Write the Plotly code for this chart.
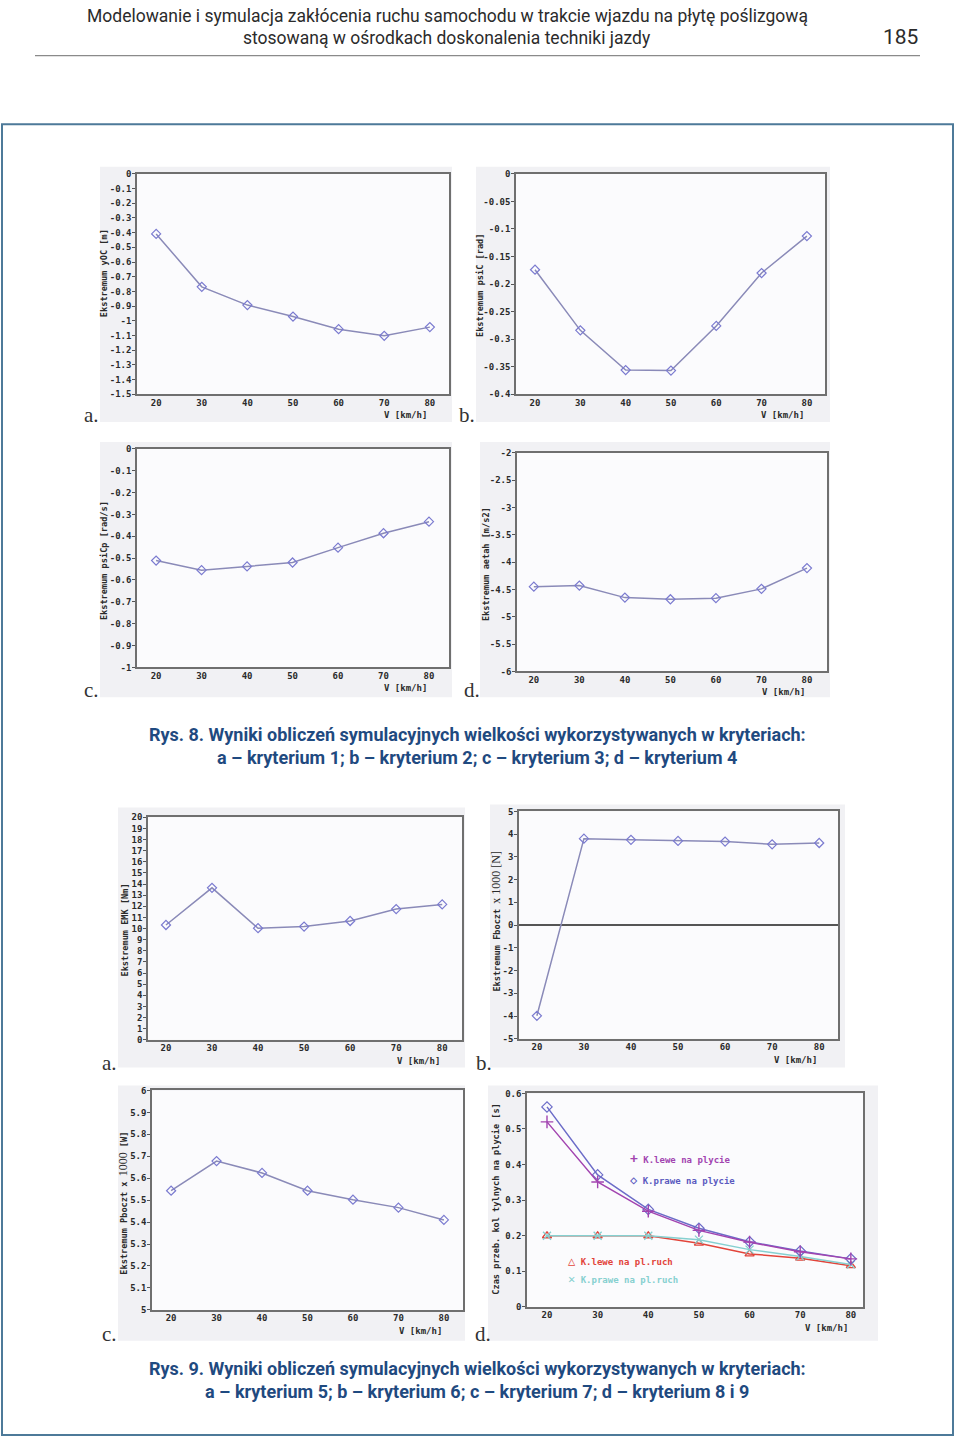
import plotly.graph_objects as go

W, H = 960, 1443

# ---------------- data ----------------
speeds = [20, 30, 40, 50, 60, 70, 80]
speed_labels = ["20", "30", "40", "50", "60", "70", "80"]

yOC = [-0.409, -0.769, -0.893, -0.971, -1.057, -1.102, -1.043]
psiC = [-0.174, -0.284, -0.356, -0.357, -0.276, -0.180, -0.113]
psiCp = [-0.511, -0.555, -0.538, -0.520, -0.452, -0.386, -0.333]
aetah = [-4.45, -4.43, -4.65, -4.68, -4.66, -4.49, -4.11]
EMK = [10.32, 13.66, 10.03, 10.18, 10.68, 11.75, 12.17]
Fboczt = [-3.99, 3.80, 3.75, 3.70, 3.67, 3.55, 3.61]
Pboczt = [5.543, 5.678, 5.624, 5.543, 5.502, 5.466, 5.410]
lewe_plycie = [0.520, 0.351, 0.269, 0.215, 0.182, 0.155, 0.135]
prawe_plycie = [0.562, 0.371, 0.274, 0.221, 0.183, 0.157, 0.135]
lewe_ruch = [0.200, 0.200, 0.200, 0.179, 0.149, 0.137, 0.116]
prawe_ruch = [0.200, 0.200, 0.200, 0.189, 0.161, 0.142, 0.119]

ticks_yOC = ["0", "-0.1", "-0.2", "-0.3", "-0.4", "-0.5", "-0.6", "-0.7", "-0.8",
             "-0.9", "-1", "-1.1", "-1.2", "-1.3", "-1.4", "-1.5"]
ticks_psiC = ["0", "-0.05", "-0.1", "-0.15", "-0.2", "-0.25", "-0.3", "-0.35", "-0.4"]
ticks_psiCp = ["0", "-0.1", "-0.2", "-0.3", "-0.4", "-0.5", "-0.6", "-0.7", "-0.8", "-0.9", "-1"]
ticks_aetah = ["-2", "-2.5", "-3", "-3.5", "-4", "-4.5", "-5", "-5.5", "-6"]
ticks_EMK = [str(i) for i in range(0, 21)]
ticks_Fb = ["5", "4", "3", "2", "1", "0", "-1", "-2", "-3", "-4", "-5"]
ticks_Pb = ["5", "5.1", "5.2", "5.3", "5.4", "5.5", "5.6", "5.7", "5.8", "5.9", "6"]
ticks_czas = ["0", "0.1", "0.2", "0.3", "0.4", "0.5", "0.6"]

# ---------------- helpers ----------------
def px(x):
    return x / W

def py(y):
    return 1 - y / H

LINE = "#8a8ab8"
MARK = "#7b7bd0"
TICKFONT = dict(family="DejaVu Sans Mono", size=9, color="#2a2a2a", weight="bold")
TITLEFONT = dict(family="DejaVu Sans Mono", size=8.6, color="#2a2a2a", weight="bold")
SERIF = "<span style='font-family:Liberation Serif;font-size:12px;font-weight:normal'>%s</span>"

fig = go.Figure()
layout = dict(width=W, height=H, margin=dict(l=0, r=0, t=0, b=0),
              paper_bgcolor="white", plot_bgcolor="white", showlegend=False)
shapes = []
annotations = []

panels = [
    dict(frame=(137, 449, 170, 392), xr=(15.8, 84.2), block=(100, 452, 163, 420),
         title="Ekstremum yOC [m]", tpos=(104, 270), letter="a.", lpos=(91, 413),
         ticks=ticks_yOC, xlab=429),
    dict(frame=(516, 825, 170, 392), xr=(15.8, 84.0), block=(476, 830, 163, 420),
         title="Ekstremum psiC [rad]", tpos=(480, 283), letter="b.", lpos=(467, 413),
         ticks=ticks_psiC, xlab=806),
    dict(frame=(137, 449, 447, 667), xr=(15.8, 84.4), block=(100, 452, 440, 697),
         title="Ekstremum psiCp [rad/s]", tpos=(104, 560), letter="c.", lpos=(91, 690),
         ticks=ticks_psiCp, xlab=429),
    dict(frame=(517, 827, 451, 671), xr=(16.3, 84.4), block=(480, 830, 440, 697),
         title="Ekstremum aetah [m/s2]", tpos=(486, 563), letter="d.", lpos=(472, 690),
         ticks=ticks_aetah, xlab=807),
    dict(frame=(148, 462, 818, 1042), xr=(16.1, 84.3), block=(118, 465, 808, 1070),
         title="Ekstremum EMK [Nm]", tpos=(125, 932), letter="a.", lpos=(109, 1065),
         ticks=ticks_EMK, xlab=442),
    dict(frame=(519, 838, 812, 1041), xr=(16.2, 84.0), block=(490, 845, 805, 1070),
         title="Ekstremum Fboczt " + SERIF % "x 1000 [N]", tpos=(496, 923), letter="b.", lpos=(484, 1065),
         ticks=ticks_Fb, xlab=819),
    dict(frame=(152, 463, 1093, 1314), xr=(15.8, 84.2), block=(118, 465, 1088, 1345),
         title="Ekstremum Pboczt x " + SERIF % "1000" + " [W]", tpos=(123, 1206), letter="c.", lpos=(109, 1338),
         ticks=ticks_Pb, xlab=444),
    dict(frame=(527, 863, 1096, 1311), xr=(16.05, 82.4), block=(488, 878, 1088, 1345),
         title="Czas przeb. kol tylnych na plycie [s]", tpos=(496, 1203), letter="d.", lpos=(483, 1338),
         ticks=ticks_czas, xlab=850),
]

for i, p in enumerate(panels):
    n = "" if i == 0 else str(i + 1)
    l, r, t, b = p["frame"]
    vals = [float(s) for s in p["ticks"]]
    bl, br, bt, bb = p["block"]
    shapes.append(dict(type="rect", xref="paper", yref="paper", x0=px(bl), x1=px(br),
                       y0=py(bb), y1=py(bt), fillcolor="#f1f1f4", line=dict(width=0), layer="below"))
    layout["xaxis" + n] = dict(domain=[px(l), px(r)], anchor="y" + n, range=list(p["xr"]),
                               tickvals=speeds, ticktext=speed_labels, ticks="",
                               ticklabelstandoff=-1,
                               tickfont=TICKFONT, showgrid=False, zeroline=False,
                               showline=True, mirror=True, linecolor="#6f6f6f", linewidth=1.5)
    layout["yaxis" + n] = dict(domain=[py(b), py(t)], anchor="x" + n, range=[min(vals), max(vals)],
                               tickvals=vals, ticktext=p["ticks"], ticks="outside", ticklen=3,
                               ticklabelstandoff=-1,
                               tickcolor="#555", tickfont=TICKFONT, showgrid=False, zeroline=False,
                               showline=True, mirror=True, linecolor="#6f6f6f", linewidth=1.5)
    shapes.append(dict(type="rect", xref="x" + n + " domain", yref="y" + n + " domain",
                       x0=0, x1=1, y0=0, y1=1, fillcolor="#fbfbfd", line=dict(width=0), layer="below"))
    annotations.append(dict(text=p["title"], x=px(p["tpos"][0]), y=py(p["tpos"][1]), xref="paper",
                            yref="paper", showarrow=False, textangle=-90, font=TITLEFONT,
                            xanchor="center", yanchor="middle"))
    annotations.append(dict(text=p["letter"], x=px(p["lpos"][0]), y=py(p["lpos"][1]), xref="paper",
                            yref="paper", showarrow=False,
                            font=dict(family="Liberation Serif", size=21, color="#333"),
                            xanchor="center", yanchor="middle"))
    annotations.append(dict(text="V [km/h]", x=px(p["xlab"]), y=py(b + 21), xref="paper",
                            yref="paper", showarrow=False, font=TICKFONT,
                            xanchor="right", yanchor="middle"))

layout["yaxis6"]["zeroline"] = True
layout["yaxis6"]["zerolinecolor"] = "#555"
layout["yaxis6"]["zerolinewidth"] = 1.5

single = [yOC, psiC, psiCp, aetah, EMK, Fboczt, Pboczt]
for i, ys in enumerate(single):
    n = "" if i == 0 else str(i + 1)
    fig.add_trace(go.Scatter(x=speeds, y=ys, mode="lines+markers", xaxis="x" + n, yaxis="y" + n,
                             line=dict(color=LINE, width=1.5),
                             marker=dict(symbol="diamond-open", size=7, color=MARK,
                                         line=dict(width=1.2, color=MARK))))

# panel 8 (four series)
fig.add_trace(go.Scatter(x=speeds, y=lewe_ruch, mode="lines+markers", xaxis="x8", yaxis="y8",
                         line=dict(color="#e2443a", width=1.5),
                         marker=dict(symbol="triangle-up-open", size=8, color="#e2443a",
                                     line=dict(width=1.3, color="#e2443a"))))
fig.add_trace(go.Scatter(x=speeds, y=prawe_ruch, mode="lines+markers", xaxis="x8", yaxis="y8",
                         line=dict(color="#86d0d0", width=1.5),
                         marker=dict(symbol="x-thin-open", size=8, color="#86d0d0",
                                     line=dict(width=1.3, color="#86d0d0"))))
fig.add_trace(go.Scatter(x=speeds, y=prawe_plycie, mode="lines+markers", xaxis="x8", yaxis="y8",
                         line=dict(color="#6c6cc8", width=1.5),
                         marker=dict(symbol="diamond-open", size=8, color="#6c6cc8",
                                     line=dict(width=1.2, color="#6c6cc8"))))
fig.add_trace(go.Scatter(x=speeds, y=lewe_plycie, mode="lines+markers", xaxis="x8", yaxis="y8",
                         line=dict(color="#a244b0", width=1.5),
                         marker=dict(symbol="cross-thin-open", size=9, color="#a244b0",
                                     line=dict(width=1.4, color="#a244b0"))))

LEGFONT = dict(family="DejaVu Sans Mono", size=9, weight="bold")
for txt, x, y, col in [("<span style='font-size:13px'>+</span> K.lewe na plycie", 628, 1162, "#a244b0"),
                       ("<span style='font-size:12px'>◇</span> K.prawe na plycie", 628, 1183, "#5a5ac0"),
                       ("<span style='font-size:12px'>△</span> K.lewe na pl.ruch", 566, 1265, "#e2443a"),
                       ("<span style='font-size:12px'>✕</span> K.prawe na pl.ruch", 566, 1283, "#86d0d0")]:
    annotations.append(dict(text=txt, x=px(x), y=py(y), xref="paper", yref="paper", showarrow=False,
                            font=dict(color=col, **LEGFONT), xanchor="left", yanchor="middle"))

# page header
HEAD = dict(family="Roboto", size=17.5, color="#2b2b2b")
annotations.append(dict(text="Modelowanie i symulacja zakłócenia ruchu samochodu w trakcie wjazdu na płytę poślizgową",
                        x=px(447), y=py(11), xref="paper", yref="paper", showarrow=False, font=HEAD,
                        xanchor="center", yanchor="middle"))
annotations.append(dict(text="stosowaną w ośrodkach doskonalenia techniki jazdy",
                        x=px(447), y=py(33), xref="paper", yref="paper", showarrow=False, font=HEAD,
                        xanchor="center", yanchor="middle"))
annotations.append(dict(text="185", x=px(900), y=py(32), xref="paper", yref="paper", showarrow=False,
                        font=dict(family="Roboto", size=21, color="#2b2b2b"),
                        xanchor="center", yanchor="middle"))
shapes.append(dict(type="line", xref="paper", yref="paper", x0=px(35), x1=px(920), y0=py(51), y1=py(51),
                   line=dict(color="#8a8a8a", width=1.2)))
# outer blue frame
shapes.append(dict(type="rect", xref="paper", yref="paper", x0=px(2), x1=px(953), y0=py(1440), y1=py(120),
                   line=dict(color="#4d7a99", width=2), fillcolor="rgba(0,0,0,0)"))

CAP = dict(family="Roboto", size=18, color="#1f4a80", weight="bold")
for txt, y in [("Rys. 8. Wyniki obliczeń symulacyjnych wielkości wykorzystywanych w kryteriach:", 735),
               ("a – kryterium 1; b – kryterium 2; c – kryterium 3; d – kryterium 4", 758),
               ("Rys. 9. Wyniki obliczeń symulacyjnych wielkości wykorzystywanych w kryteriach:", 1373),
               ("a – kryterium 5; b – kryterium 6; c – kryterium 7; d – kryterium 8 i 9", 1396)]:
    annotations.append(dict(text=txt, x=px(477), y=py(y), xref="paper", yref="paper", showarrow=False,
                            font=CAP, xanchor="center", yanchor="middle"))

layout["shapes"] = shapes
layout["annotations"] = annotations
fig.update_layout(**layout)
fig.write_html("out.html", config={"displayModeBar": False},
               post_script="document.body.style.margin='0px';document.body.style.overflow='hidden';")
